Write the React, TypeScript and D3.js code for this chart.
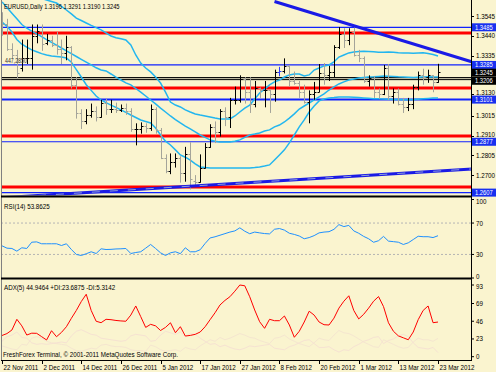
import React from 'react';
import * as d3 from 'd3';

// EURUSD daily, 22 Nov 2011 .. 23 Mar 2012 (89 bars)
const dateTicks = ['22 Nov 2011', '2 Dec 2011', '14 Dec 2011', '26 Dec 2011', '5 Jan 2012', '17 Jan 2012',
  '27 Jan 2012', '8 Feb 2012', '20 Feb 2012', '1 Mar 2012', '13 Mar 2012', '23 Mar 2012'];

const opens = [1.3510, 1.3500, 1.3370, 1.3340, 1.3270, 1.3320, 1.3320, 1.3440, 1.3465, 1.3400,
  1.3420, 1.3390, 1.3370, 1.3350, 1.3380, 1.3180, 1.3030, 1.2985, 1.3020, 1.3040,
  1.3010, 1.3085, 1.3050, 1.3050, 1.3045, 1.3055, 1.3040, 1.2945, 1.2945, 1.2960,
  1.2950, 1.3050, 1.2940, 1.2790, 1.2720, 1.2770, 1.2790, 1.2710, 1.2810, 1.2670,
  1.2665, 1.2740, 1.2850, 1.2955, 1.2930, 1.3040, 1.3010, 1.3100, 1.3100, 1.3210,
  1.3140, 1.3080, 1.3160, 1.3150, 1.3150, 1.3130, 1.3250, 1.3255, 1.3280, 1.3200,
  1.3190, 1.3140, 1.3090, 1.3130, 1.3140, 1.3240, 1.3230, 1.3245, 1.3380, 1.3450,
  1.3420, 1.3460, 1.3340, 1.3320, 1.3200, 1.3215, 1.3140, 1.3130, 1.3270, 1.3120,
  1.3140, 1.3080, 1.3060, 1.3075, 1.3170, 1.3230, 1.3220, 1.3230, 1.3196];
const highs = [1.3565, 1.3530, 1.3400, 1.3365, 1.3420, 1.3420, 1.3500, 1.3500, 1.3500, 1.3450,
  1.3440, 1.3460, 1.3420, 1.3440, 1.3385, 1.3220, 1.3050, 1.3050, 1.3080, 1.3065,
  1.3100, 1.3105, 1.3100, 1.3085, 1.3075, 1.3080, 1.3055, 1.2975, 1.2980, 1.2975,
  1.3075, 1.3060, 1.2950, 1.2810, 1.2815, 1.2815, 1.2800, 1.2850, 1.2875, 1.2700,
  1.2810, 1.2870, 1.2970, 1.2985, 1.3050, 1.3060, 1.3110, 1.3170, 1.3230, 1.3220,
  1.3220, 1.3200, 1.3165, 1.3200, 1.3155, 1.3260, 1.3275, 1.3320, 1.3285, 1.3250,
  1.3200, 1.3180, 1.3150, 1.3195, 1.3290, 1.3295, 1.3280, 1.3390, 1.3486, 1.3480,
  1.3480, 1.3486, 1.3365, 1.3330, 1.3230, 1.3225, 1.3160, 1.3285, 1.3290, 1.3160,
  1.3160, 1.3110, 1.3110, 1.3180, 1.3250, 1.3265, 1.3260, 1.3230, 1.3291];
const lows = [1.3440, 1.3360, 1.3320, 1.3213, 1.3250, 1.3290, 1.3260, 1.3400, 1.3360, 1.3390,
  1.3380, 1.3340, 1.3290, 1.3310, 1.3160, 1.3000, 1.2945, 1.2970, 1.3005, 1.2985,
  1.3005, 1.3020, 1.3030, 1.3030, 1.3035, 1.3020, 1.2930, 1.2858, 1.2920, 1.2925,
  1.2935, 1.2920, 1.2785, 1.2710, 1.2705, 1.2740, 1.2660, 1.2665, 1.2624, 1.2640,
  1.2660, 1.2735, 1.2845, 1.2870, 1.2905, 1.2960, 1.2950, 1.3075, 1.3085, 1.3080,
  1.3030, 1.3060, 1.3110, 1.3060, 1.3030, 1.3090, 1.3225, 1.3240, 1.3170, 1.3180,
  1.3110, 1.3080, 1.2975, 1.3100, 1.3140, 1.3180, 1.3200, 1.3220, 1.3370, 1.3375,
  1.3390, 1.3330, 1.3300, 1.3190, 1.3170, 1.3110, 1.3105, 1.3125, 1.3100, 1.3080,
  1.3070, 1.3030, 1.3040, 1.3050, 1.3150, 1.3180, 1.3190, 1.3140, 1.3190];
const closes = [1.3500, 1.3370, 1.3340, 1.3240, 1.3320, 1.3320, 1.3440, 1.3465, 1.3395, 1.3420,
  1.3390, 1.3370, 1.3350, 1.3380, 1.3180, 1.3030, 1.2985, 1.3020, 1.3040, 1.3010,
  1.3085, 1.3050, 1.3050, 1.3045, 1.3055, 1.3040, 1.2945, 1.2945, 1.2960, 1.2950,
  1.3050, 1.2940, 1.2790, 1.2720, 1.2770, 1.2790, 1.2710, 1.2810, 1.2680, 1.2665,
  1.2740, 1.2850, 1.2955, 1.2930, 1.3040, 1.3010, 1.3100, 1.3100, 1.3210, 1.3140,
  1.3080, 1.3160, 1.3150, 1.3150, 1.3130, 1.3250, 1.3255, 1.3280, 1.3200, 1.3190,
  1.3140, 1.3090, 1.3130, 1.3140, 1.3240, 1.3230, 1.3245, 1.3380, 1.3450, 1.3420,
  1.3460, 1.3340, 1.3320, 1.3200, 1.3215, 1.3140, 1.3130, 1.3270, 1.3120, 1.3140,
  1.3080, 1.3060, 1.3075, 1.3170, 1.3230, 1.3220, 1.3230, 1.3195, 1.3245];

// Bollinger bands
const bbUpper = [1.3727, 1.3705, 1.3690, 1.3680, 1.3670, 1.3660, 1.3652, 1.3645, 1.3638, 1.3630,
  1.3622, 1.3614, 1.3596, 1.3577, 1.3556, 1.3534, 1.3521, 1.3508, 1.3495, 1.3483,
  1.3471, 1.3455, 1.3439, 1.3430, 1.3424, 1.3418, 1.3391, 1.3338, 1.3295, 1.3269,
  1.3248, 1.3221, 1.3189, 1.3141, 1.3088, 1.3072, 1.3062, 1.3046, 1.3035, 1.3025,
  1.3019, 1.3014, 1.3009, 1.3003, 1.2998, 1.2998, 1.2998, 1.3014, 1.3035, 1.3056,
  1.3072, 1.3104, 1.3136, 1.3157, 1.3179, 1.3195, 1.3205, 1.3221, 1.3232, 1.3237,
  1.3237, 1.3226, 1.3232, 1.3258, 1.3269, 1.3280, 1.3285, 1.3301, 1.3327, 1.3338,
  1.3349, 1.3354, 1.3356, 1.3358, 1.3357, 1.3355, 1.3353, 1.3352, 1.3354, 1.3352,
  1.3350, 1.3349, 1.3348, 1.3347, 1.3349, 1.3350, 1.3346, 1.3340, 1.3333];
const bbMiddle = [1.3620, 1.3590, 1.3560, 1.3530, 1.3500, 1.3480, 1.3465, 1.3450, 1.3435, 1.3420,
  1.3405, 1.3390, 1.3375, 1.3360, 1.3345, 1.3330, 1.3315, 1.3300, 1.3285, 1.3270,
  1.3258, 1.3253, 1.3237, 1.3220, 1.3205, 1.3190, 1.3179, 1.3160, 1.3141, 1.3120,
  1.3099, 1.3078, 1.3056, 1.3035, 1.3014, 1.2995, 1.2977, 1.2960, 1.2945, 1.2929,
  1.2913, 1.2900, 1.2887, 1.2880, 1.2876, 1.2876, 1.2876, 1.2880, 1.2887, 1.2900,
  1.2913, 1.2918, 1.2924, 1.2934, 1.2940, 1.2956, 1.2966, 1.2982, 1.3003, 1.3025,
  1.3051, 1.3067, 1.3083, 1.3099, 1.3115, 1.3131, 1.3152, 1.3168, 1.3184, 1.3195,
  1.3205, 1.3210, 1.3216, 1.3219, 1.3221, 1.3222, 1.3224, 1.3226, 1.3225, 1.3224,
  1.3222, 1.3221, 1.3220, 1.3219, 1.3220, 1.3221, 1.3222, 1.3221, 1.3221];
const bbLower = [1.3513, 1.3490, 1.3460, 1.3420, 1.3395, 1.3380, 1.3365, 1.3355, 1.3345, 1.3338,
  1.3333, 1.3330, 1.3327, 1.3322, 1.3300, 1.3260, 1.3221, 1.3180, 1.3150, 1.3120,
  1.3099, 1.3085, 1.3072, 1.3060, 1.3046, 1.3033, 1.3019, 1.3006, 1.2993, 1.2985,
  1.2977, 1.2950, 1.2913, 1.2880, 1.2860, 1.2834, 1.2807, 1.2795, 1.2780, 1.2760,
  1.2743, 1.2740, 1.2738, 1.2738, 1.2738, 1.2738, 1.2738, 1.2738, 1.2738, 1.2738,
  1.2738, 1.2740, 1.2743, 1.2748, 1.2754, 1.2780, 1.2807, 1.2834, 1.2871, 1.2913,
  1.2956, 1.2993, 1.3035, 1.3067, 1.3094, 1.3104, 1.3110, 1.3112, 1.3115, 1.3115,
  1.3115, 1.3114, 1.3112, 1.3110, 1.3108, 1.3106, 1.3105, 1.3104, 1.3103, 1.3102,
  1.3101, 1.3100, 1.3100, 1.3101, 1.3103, 1.3105, 1.3107, 1.3109, 1.3110];

const rsi = [41, 38, 37.6, 34.2, 38.5, 37.6, 45.6, 46, 43.6, 43.6,
  43.6, 43.6, 41.4, 43.6, 36.3, 30, 28.7, 30.9, 33.4, 31.2,
  37.2, 36.3, 36.5, 37, 37.2, 37.6, 31.2, 32.5, 33.4, 38,
  42.7, 37.6, 32.1, 28.7, 32.1, 33.4, 31, 38.5, 33.4, 33.4,
  36, 44, 51, 52.5, 54.5, 56.5, 58.5, 60, 63.9, 59.6,
  56.4, 58.5, 57.5, 56.6, 56.2, 62.1, 63, 61, 57, 55.5,
  53.5, 50, 51.5, 54, 57.5, 58.5, 59, 62, 68, 65.5,
  67, 60, 57, 53, 50, 45.5, 47.5, 53, 47, 46.3,
  45.6, 42.7, 44.8, 49, 53.2, 52.6, 52.6, 51.5, 53.86];

const adx = [27.5, 30, 34.6, 48.5, 40, 28.1, 30.5, 30.3, 26, 21.7,
  33.7, 25.9, 31.5, 38.9, 49.8, 60, 71.5, 81, 60, 46,
  44.1, 48.5, 48, 47, 46.4, 46, 54, 65.8, 52, 38,
  42, 40, 34, 38, 44, 31.1, 38.9, 26.8, 27.6, 29,
  32, 38.9, 48, 57, 67.1, 73, 77.8, 85, 93, 92,
  77.8, 60.6, 45.4, 36.8, 48.5, 46.7, 46.7, 52.8, 41.1, 25.2,
  33, 45, 59, 54, 45, 41.5, 41.1, 50, 63, 72,
  79, 60, 49, 55, 63, 72, 78, 65, 44, 33,
  27, 24.5, 22, 32, 48, 60, 65.8, 44.1, 44.95];
const plusDi = [14, 12, 10, 9, 16, 15, 24, 26, 24, 20,
  18, 17, 16, 15, 11, 8, 7, 9, 11, 10,
  15, 16, 14, 13, 13, 12, 9, 8, 8, 7,
  15, 13, 9, 7, 8, 9, 7, 12, 10, 9,
  14, 18, 22, 20, 25, 22, 24, 27, 30, 28,
  25, 24, 21, 19, 17, 24, 25, 28, 23, 20,
  17, 15, 13, 18, 24, 22, 21, 28, 34, 31,
  30, 27, 23, 19, 16, 13, 12, 22, 19, 16,
  13, 11, 12, 19, 24, 22, 22, 20, 23.7];
const minusDi = [20, 26, 28, 32, 25, 24, 18, 16, 17, 16,
  17, 18, 19, 18, 27, 33, 35, 32, 29, 28,
  24, 23, 22, 21, 20, 21, 27, 29, 28, 27,
  20, 21, 28, 33, 31, 29, 32, 26, 30, 29,
  24, 20, 16, 17, 13, 15, 12, 10, 9, 11,
  14, 13, 14, 15, 16, 11, 10, 9, 13, 15,
  18, 21, 22, 17, 12, 12, 13, 9, 6, 9,
  8, 13, 16, 20, 22, 25, 26, 17, 21, 23,
  27, 29, 26, 18, 12, 11, 10, 12, 5.3];

const priceTicks = [1.3545, 1.3440, 1.3335, 1.3130, 1.3015, 1.2910, 1.2805, 1.2700];
const redLevels = [1.3455, 1.3163, 1.2908, 1.2637];
const blueLevels = [1.3485, 1.3285, 1.3101, 1.2877, 1.2607];
const blueLabels = ['1.3485', '1.3285', '1.3101', '1.2877', '1.2607'];
const blackLevels = [1.3218, 1.3207];
const blackLabels = [[1.3244, '1.3245'], [1.3201, '1.3206']] as [number, string][];
const trendDown = [[55, 1.3622], [95, 1.3300]];
const trendUp = [[0, 1.2580], [95, 1.2733]];
const rsiTicks = [100, 70, 30, 0];
const rsiLevels = [70, 30];
const adxTicks = [93, 69, 46, 23, 0];

const W = 496;
const H = 372;
const BG = '#faf4cf';
const FONT = 'Liberation Sans, Arial, sans-serif';

const Txt = ({ x, y, children, fill = '#000', anchor = 'start', sx = 0.78, size = 8 }: any) => (
  <text transform={`translate(${x},${y}) scale(${sx},1)`} fontSize={size} fontFamily={FONT}
    fill={fill} textAnchor={anchor}>{children}</text>
);

export default function App() {
  const n = closes.length;
  const idx = d3.range(n);
  const x = d3.scaleLinear().domain([0, 88]).range([2, 438]);
  const y = d3.scaleLinear().domain([1.27, 1.3545]).range([175.1, 16]);
  const yRsi = d3.scaleLinear().domain([0, 100]).range([278, 199.5]);
  const yAdx = d3.scaleLinear().domain([0, 93]).range([356.7, 285]);

  const priceLine = (arr: number[]) => d3.line<number>().x(i => x(i)).y(i => y(arr[i]))(idx) || '';
  const rsiLine = d3.line<number>().x(i => x(i)).y(i => yRsi(rsi[i]))(idx) || '';
  const adxPath = (arr: number[]) => d3.line<number>().x(i => x(i)).y(i => yAdx(arr[i]))(idx) || '';
  const seg = (t: number[][]) => `M${x(t[0][0])},${y(t[0][1])}L${x(t[1][0])},${y(t[1][1])}`;

  // small nudges so tick labels clear the level boxes / neighbouring panels
  const tickShift = (p: number) => (p === 1.3130 ? -2 : p === 1.2910 ? -1.5 : 0);
  const rsiShift = (v: number) => (v === 100 ? 2 : v === 0 ? -1.5 : 0);
  const adxShift = (v: number) => (v === 93 ? 1 : 0);

  return (
    <svg width={W} height={H} style={{ position: 'absolute', left: 0, top: 0 }}>
      <rect width={W} height={H} fill={BG} />
      <defs>
        <clipPath id="mainClip"><rect x={1} y={0} width={470.5} height={195.5} /></clipPath>
        <clipPath id="rsiClip"><rect x={1} y={198} width={470.5} height={80} /></clipPath>
        <clipPath id="adxClip"><rect x={1} y={280} width={470.5} height={80} /></clipPath>
      </defs>

      <g clipPath="url(#mainClip)">
        {redLevels.map((p, k) => (
          <line key={'r' + k} x1={0} x2={472} y1={y(p)} y2={y(p)} stroke="#ff0000" strokeWidth={3} />
        ))}
        {blueLevels.map((p, k) => (
          <line key={'b' + k} x1={0} x2={472} y1={y(p)} y2={y(p)} stroke="#1022ff"
            strokeWidth={p === 1.3101 ? 2 : 1.2} />
        ))}
        <rect x={0} y={y(blackLevels[0])} width={472} height={y(blackLevels[1]) - y(blackLevels[0])} fill="#c8c4a8" />
        {blackLevels.map((p, k) => (
          <line key={'k' + k} x1={0} x2={472} y1={y(p)} y2={y(p)} stroke="#000" strokeWidth={1} />
        ))}

        {[bbUpper, bbMiddle, bbLower].map((arr, k) => (
          <path key={'bb' + k} d={priceLine(arr)} fill="none" stroke="#22b6ef" strokeWidth={1.5} />
        ))}

        {idx.map(i => {
          const up = closes[i] >= opens[i];
          const c = i === 56 ? '#2a3cff' : up ? '#000' : '#a4a49a';
          const cx = Math.round(x(i)) + 0.5;
          return (
            <g key={'bar' + i} stroke={c} strokeWidth={1}>
              <line x1={cx} x2={cx} y1={y(highs[i])} y2={y(lows[i])} />
              <line x1={cx - 2} x2={cx} y1={Math.round(y(opens[i])) + 0.5} y2={Math.round(y(opens[i])) + 0.5} />
              <line x1={cx} x2={cx + 2} y1={Math.round(y(closes[i])) + 0.5} y2={Math.round(y(closes[i])) + 0.5} />
            </g>
          );
        })}

        <path d={seg(trendDown)} stroke="#1a1ae6" strokeWidth={3} fill="none" />
        <path d={seg(trendUp)} stroke="#1a1ae6" strokeWidth={3} fill="none" />
        <path d={seg(trendUp)} stroke="#8f9fd8" strokeWidth={1} strokeDasharray="8 10" fill="none" />

        <Txt x={5} y={y(1.3285) - 1.5} size={7} sx={0.75} fill="#333">447,2850</Txt>
      </g>

      {/* RSI panel */}
      <g clipPath="url(#rsiClip)">
        {rsiLevels.map(v => (
          <line key={v} x1={1} x2={471} y1={yRsi(v)} y2={yRsi(v)} stroke="#b4b4b4" strokeDasharray="2 2" />
        ))}
        <path d={rsiLine} fill="none" stroke="#1e90ff" strokeWidth={1} />
      </g>

      {/* ADX panel */}
      <g clipPath="url(#adxClip)">
        <path d={adxPath(plusDi)} fill="none" stroke="#f5e6cf" strokeWidth={1} />
        <path d={adxPath(minusDi)} fill="none" stroke="#f6e2d2" strokeWidth={1} />
        <path d={adxPath(adx)} fill="none" stroke="#ff0000" strokeWidth={1} />
      </g>

      {/* frame */}
      <line x1={1.5} x2={1.5} y1={0} y2={361} stroke="#808080" />
      <line x1={471.5} x2={471.5} y1={0} y2={361} stroke="#000" />
      <line x1={1} x2={472} y1={196.5} y2={196.5} stroke="#000" strokeWidth={2} />
      <line x1={1} x2={472} y1={278.5} y2={278.5} stroke="#000" strokeWidth={2} />
      <line x1={1} x2={472} y1={360.5} y2={360.5} stroke="#000" />

      {/* price axis */}
      {priceTicks.map(p => (
        <g key={'pt' + p}>
          <line x1={471} x2={474} y1={Math.round(y(p)) + 0.5} y2={Math.round(y(p)) + 0.5} stroke="#000" />
          <Txt x={476} y={y(p) + 2.5 + tickShift(p)}>{p.toFixed(4)}</Txt>
        </g>
      ))}
      {blueLevels.map((p, k) => (
        <g key={'bl' + k}>
          <rect x={472} y={y(p) - 4} width={24} height={8} fill="#1830f0" />
          <Txt x={475} y={y(p) + 2.5} fill="#fff" size={7.5}>{blueLabels[k]}</Txt>
        </g>
      ))}
      {blackLabels.map(([p, t]) => (
        <g key={'kl' + t}>
          <rect x={472} y={y(p) - 4} width={24} height={8} fill="#000" />
          <Txt x={475} y={y(p) + 2.5} fill="#fff" size={7.5}>{t}</Txt>
        </g>
      ))}

      {rsiTicks.map(v => (
        <g key={'rt' + v}>
          <line x1={471} x2={474} y1={yRsi(v)} y2={yRsi(v)} stroke="#000" />
          <Txt x={476} y={yRsi(v) + 2.5 + rsiShift(v)}>{v}</Txt>
        </g>
      ))}
      {adxTicks.map(v => (
        <g key={'at' + v}>
          <line x1={471} x2={474} y1={yAdx(v)} y2={yAdx(v)} stroke="#000" />
          <Txt x={476} y={yAdx(v) + 2.5 + adxShift(v)}>{v}</Txt>
        </g>
      ))}

      {/* time axis */}
      {dateTicks.map((t, k) => {
        const tx = Math.round(x(k * 8)) + 0.5;
        return (
          <g key={'dt' + k}>
            <line x1={tx} x2={tx} y1={361} y2={364} stroke="#000" />
            <Txt x={tx + 1} y={369.5}>{t}</Txt>
          </g>
        );
      })}

      {/* titles */}
      <Txt x={4} y={9} sx={0.72}>EURUSD,Daily  1.3196 1.3291 1.3190 1.3245</Txt>
      <Txt x={4} y={209}>RSI(14) 53.8625</Txt>
      <Txt x={4} y={290}>ADX(5) 44.9464 +DI:23.6875 -DI:5.3142</Txt>
      <Txt x={3} y={357}>FreshForex Terminal, © 2001-2011 MetaQuotes Software Corp.</Txt>
    </svg>
  );
}
